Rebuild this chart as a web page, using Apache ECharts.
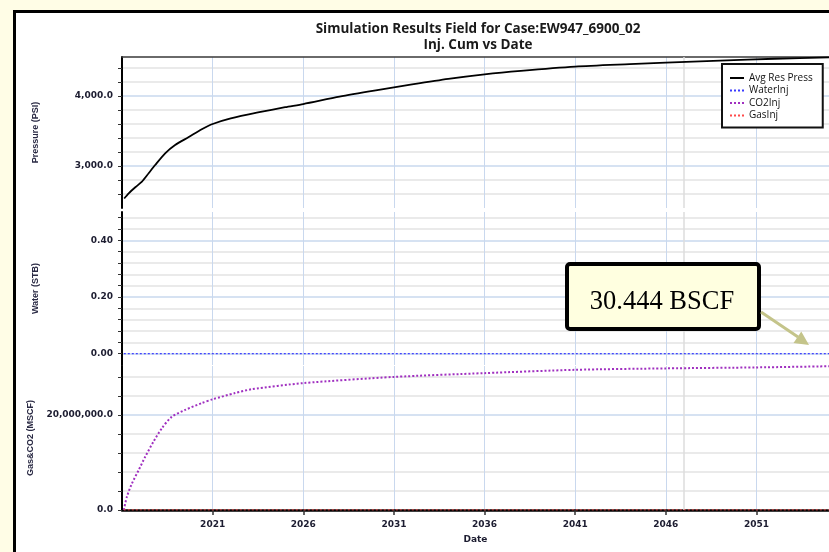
<!DOCTYPE html>
<html><head><meta charset="utf-8">
<script src="https://cdn.jsdelivr.net/npm/echarts@6/dist/echarts.min.js"></script>
<style>
html,body{margin:0;padding:0;background:#FFFDE6;overflow:hidden;width:829px;height:552px;}
#frame{position:absolute;left:13px;top:10px;width:900px;height:600px;border:3px solid #000;background:#fff;}
#chart{position:absolute;left:0;top:0;width:829px;height:552px;}
</style></head><body>
<div id="frame"></div>
<div id="chart"></div>
<script>
// ---- data ----
const pressureYears  = [2016.12, 2016.37, 2016.75, 2017.10, 2017.47, 2017.83, 2018.38, 2018.93, 2019.66, 2020.40, 2021.0, 2022.0, 2023.5, 2025.0, 2026.0, 2028.0, 2030.0, 2032.0, 2034.0, 2036.0, 2038.0, 2041.0, 2044.0, 2046.0, 2049.0, 2052.0, 2055.0];
const pressureValues = [2535, 2610, 2700, 2776, 2896, 3014, 3181, 3300, 3410, 3524, 3600, 3680, 3765, 3840, 3885, 3990, 4080, 4165, 4245, 4310, 4360, 4420, 4455, 4476, 4505, 4532, 4553];
const co2Years  = [2016.10, 2016.27, 2016.55, 2016.92, 2017.28, 2017.74, 2018.20, 2018.74, 2019.48, 2020.40, 2021.0, 2022.23, 2023.14, 2026.0, 2031.0, 2036.0, 2041.0, 2046.0, 2051.0, 2055.0];
const co2Values = [0, 2800000, 5600000, 8400000, 11200000, 14400000, 17200000, 19600000, 21050000, 22500000, 23300000, 24600000, 25400000, 26700000, 28000000, 28800000, 29500000, 29800000, 30000000, 30250000];
const waterYears  = [2016.10, 2055.0];
const waterValues = [0, 0];
const gasYears  = [2016.10, 2055.0];
const gasValues = [0, 0];
const seriesNames = ['Avg Res Press', 'WaterInj', 'CO2Inj', 'GasInj'];
const axisNames = ['Pressure (PSI)', 'Water (STB)', 'Gas&CO2 (MSCF)'];
const xMin = 2016, xMax = 2055, xStep = 5;
const markerYear = 2047;
const annotationText = '30.444 BSCF';

const zip = (xs, ys) => xs.map((x, i) => [x, ys[i]]);
function fmt(v, dec) {
  const s = Math.abs(v).toFixed(dec);
  const parts = s.split('.');
  const ip = parts[0].replace(/\B(?=(\d{3})+(?!\d))/g, ',');
  return (v < 0 ? '-' : '') + ip + (parts[1] !== undefined ? '.' + parts[1] : '');
}

const BLUE = '#c9d8ee', GRAY = '#e3e3e3';
const LEFT = 122, WIDTH = 707;
const labelFont = {fontFamily: 'DejaVu Sans', fontSize: 9, fontWeight: 'bold', color: '#1c1c30'};
const nameFont = {fontFamily: 'Liberation Sans', fontSize: 9, fontWeight: 'bold', color: '#2a2a44'};

const chart = echarts.init(document.getElementById('chart'), null, {renderer: 'canvas'});

function xAxisFor(i) {
  const base = {
    type: 'value', gridIndex: i, min: xMin, max: xMax, interval: xStep,
    splitLine: {show: true, showMinLine: false, showMaxLine: false, lineStyle: {color: BLUE, width: 1}},
    axisLabel: {show: false}, axisTick: {show: false}, axisLine: {show: false}
  };
  if (i === 0) {
    base.position = 'top';
    base.axisLine = {show: true, onZero: false, lineStyle: {color: '#3a3a3a', width: 1.5}};
  }
  if (i === 2) {
    base.position = 'bottom';
    base.axisLine = {show: true, onZero: false, lineStyle: {color: '#000', width: 2.5}};
    base.axisTick = {show: true, length: 5, lineStyle: {color: '#333', width: 1.5}};
    base.axisLabel = Object.assign({show: true, margin: 10, showMinLabel: false, showMaxLabel: false,
      formatter: v => String(v)}, labelFont);
    base.name = 'Date';
    base.nameLocation = 'middle';
    base.nameGap = 25;
    base.nameTextStyle = {fontFamily: 'DejaVu Sans', fontSize: 9, fontWeight: 'bold', color: '#1c1c30'};
  }
  return base;
}

function yAxisFor(i, min, max, interval, colors, formatter, showMin) {
  return {
    type: 'value', gridIndex: i, min: min, max: max, interval: interval,
    name: axisNames[i], nameLocation: 'middle', nameRotate: 90, nameGap: 82, nameTextStyle: nameFont,
    axisLine: {show: true, onZero: false, lineStyle: {color: '#000', width: 2}},
    axisTick: {show: true, length: 4, lineStyle: {color: '#333', width: 1}},
    axisLabel: Object.assign({show: true, margin: 9, showMinLabel: !!showMin, showMaxLabel: false, formatter: formatter}, labelFont),
    splitLine: {show: true, showMinLine: false, showMaxLine: false, lineStyle: {color: colors, width: 1.5}}
  };
}

const markLine2047 = {
  silent: true, symbol: ['none', 'none'], z: 1, animation: false,
  label: {show: false}, lineStyle: {color: '#dcdcdc', width: 1.5, type: 'solid'},
  data: [{xAxis: markerYear}]
};

const option = {
  animation: false,
  backgroundColor: 'transparent',
  grid: [
    {left: LEFT, width: WIDTH, top: 57, height: 151},
    {left: LEFT, width: WIDTH, top: 212, height: 153},
    {left: LEFT, width: WIDTH, top: 366, height: 144}
  ],
  xAxis: [xAxisFor(0), xAxisFor(1), xAxisFor(2)],
  yAxis: [
    yAxisFor(0, 2400, 4557, 200, [GRAY, GRAY, BLUE, GRAY, GRAY], v => (v % 1000 === 0 ? fmt(v, 1) : '')),
    yAxisFor(1, -0.04, 0.5, 0.04, [BLUE, GRAY, GRAY, GRAY, GRAY],
      v => (v > -1e-9 && v < 0.45 && Math.abs(v / 0.2 - Math.round(v / 0.2)) < 1e-6 ? v.toFixed(2) : '')),
    yAxisFor(2, 0, 30300000, 4000000, [GRAY, GRAY, GRAY, GRAY, BLUE], v => ((v === 0 || v === 20000000) ? fmt(v, 1) : ''), true)
  ],
  legend: {
    orient: 'vertical', left: 722, top: 64,
    padding: [9, 10, 7, 7], itemGap: 2.5, itemWidth: 14, itemHeight: 10,
    borderColor: '#111', borderWidth: 2, backgroundColor: '#fff',
    itemStyle: {opacity: 0},
    textStyle: {fontFamily: 'Open Sans', fontSize: 10, color: '#111'},
    data: seriesNames
  },
  series: [
    {name: seriesNames[0], type: 'line', xAxisIndex: 0, yAxisIndex: 0, data: zip(pressureYears, pressureValues),
     showSymbol: false, symbol: 'none', smooth: 0.25, color: '#000', lineStyle: {color: '#000', width: 1.8}, markLine: markLine2047},
    {name: seriesNames[1], type: 'line', xAxisIndex: 1, yAxisIndex: 1, data: zip(waterYears, waterValues),
     showSymbol: false, symbol: 'none', color: '#3a3aff', lineStyle: {color: '#3a3aff', width: 1.2, type: [2, 2]}, markLine: markLine2047},
    {name: seriesNames[2], type: 'line', xAxisIndex: 2, yAxisIndex: 2, data: zip(co2Years, co2Values),
     showSymbol: false, symbol: 'none', smooth: 0.25, color: '#a030c0', lineStyle: {color: '#a030c0', width: 2, type: [2, 2]}, markLine: markLine2047},
    {name: seriesNames[3], type: 'line', xAxisIndex: 2, yAxisIndex: 2, data: zip(gasYears, gasValues),
     showSymbol: false, symbol: 'none', color: '#ff4a4a', lineStyle: {color: '#ff4a4a', width: 1.2, type: [2, 2]}}
  ],
  graphic: [
    {type: 'text', x: 478, y: 29, z: 100, style: {text: 'Simulation Results Field for Case:EW947_6900_02', fill: '#1a1a1a',
      font: 'bold 13.5px "Open Sans"', textAlign: 'center', textVerticalAlign: 'middle'}},
    {type: 'text', x: 478, y: 45, z: 100, style: {text: 'Inj. Cum vs Date', fill: '#1a1a1a',
      font: 'bold 13.5px "Open Sans"', textAlign: 'center', textVerticalAlign: 'middle'}},
    {type: 'rect', z: 100, shape: {x: 567, y: 264, width: 192, height: 65, r: 3},
      style: {fill: '#FFFFE0', stroke: '#000', lineWidth: 4}},
    {type: 'text', x: 662, y: 302, z: 101, style: {text: annotationText, fill: '#000',
      font: '26.5px "Liberation Serif"', textAlign: 'center', textVerticalAlign: 'middle'}},
    {type: 'line', z: 100, shape: {x1: 761, y1: 312, x2: 798, y2: 337},
      style: {stroke: '#c4c48a', lineWidth: 3}},
    {type: 'polygon', z: 100, shape: {points: [[809, 345], [793.5, 343.0], [801.3, 331.4]]},
      style: {fill: '#c4c48a'}}
  ]
};
chart.setOption(option);
</script>
</body></html>
